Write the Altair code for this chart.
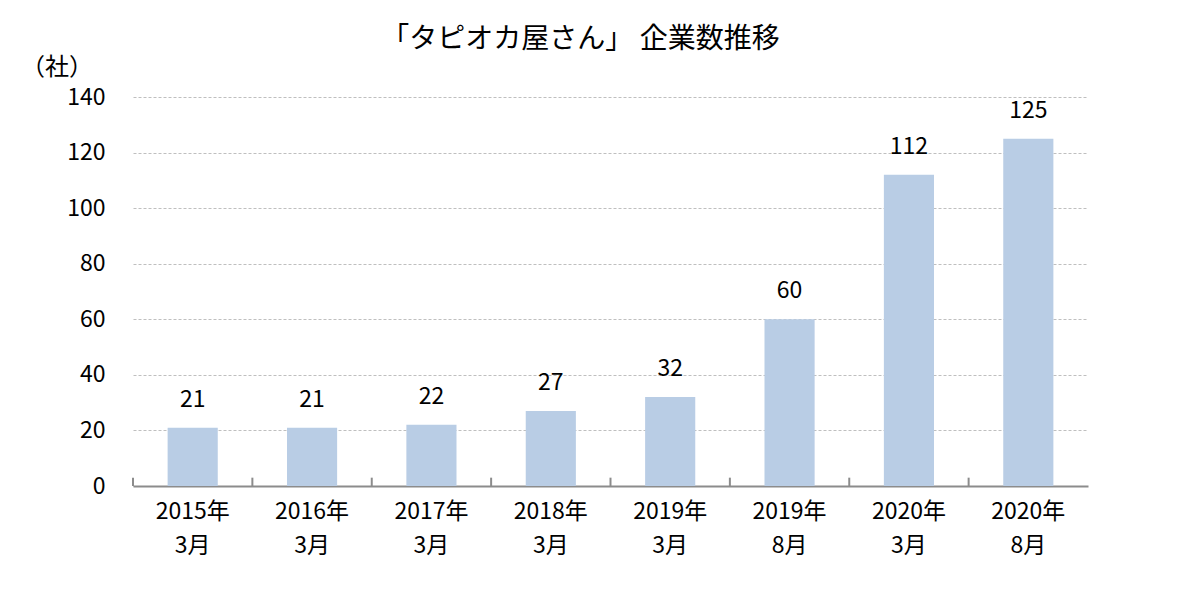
import altair as alt
import pandas as pd

categories = ["2015年\n3月", "2016年\n3月", "2017年\n3月", "2018年\n3月",
              "2019年\n3月", "2019年\n8月", "2020年\n3月", "2020年\n8月"]
values = [21, 21, 22, 27, 32, 60, 112, 125]

df = pd.DataFrame({"cat": categories, "value": values})
FONT = "Noto Sans CJK JP"

xscale = alt.Scale(domain=categories, paddingInner=0, paddingOuter=0)
yscale = alt.Scale(domain=[0, 140], nice=False)

base = alt.Chart(df)

bars = base.mark_bar(color="#b9cde5", width=alt.RelativeBandSize(0.42)).encode(
    x=alt.X("cat:N", scale=xscale, sort=categories, title=None,
            axis=alt.Axis(labelExpr="split(datum.label, '\\n')", labelAngle=0,
                          labelFont=FONT, labelFontSize=23, labelColor="#000000",
                          labelLineHeight=34, labelPadding=14,
                          ticks=False, domainColor="#8c8c8c", domainWidth=2)),
    y=alt.Y("value:Q", scale=yscale, title=None,
            axis=alt.Axis(values=[0, 20, 40, 60, 80, 100, 120, 140],
                          labelFont=FONT, labelFontSize=23, labelColor="#000000",
                          labelPadding=28, ticks=False, domain=False,
                          grid=True, gridColor="#bfbfbf", gridDash=[3, 2],
                          gridWidth=1)),
)

texts = base.mark_text(font=FONT, fontSize=23, color="#000000",
                       baseline="bottom", dy=-16).encode(
    x=alt.X("cat:N", scale=xscale, sort=categories),
    y=alt.Y("value:Q", scale=yscale),
    text=alt.Text("value:Q"),
)

ticks = base.mark_rule(color="#8c8c8c", strokeWidth=2).encode(
    x=alt.X("cat:N", scale=xscale, sort=categories, bandPosition=0),
    y=alt.datum(0),
    y2=alt.datum(3),
)

unit = alt.Chart(pd.DataFrame({"t": ["（社）"]})).mark_text(
    font=FONT, fontSize=24, color="#000000", align="left", baseline="middle"
).encode(x=alt.value(-112), y=alt.value(-29), text="t:N")

chart = alt.layer(bars, ticks, texts, unit).properties(
    width=955, height=389,
    autosize=alt.AutoSizeParams(type="none"),
    padding={"left": 125, "top": 89, "right": 100, "bottom": 100},
    title=alt.TitleParams("「タピオカ屋さん」 企業数推移", font=FONT, fontSize=28,
                          fontWeight="normal", color="#000000", anchor="middle",
                          dx=-30, offset=2),
).configure_view(stroke=None)

chart.save("out.html", embed_options={"renderer": "svg", "actions": False})
